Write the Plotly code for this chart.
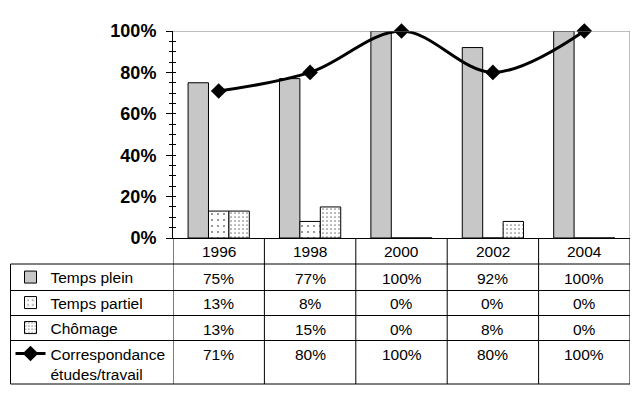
import plotly.graph_objects as go

years = ['1996', '1998', '2000', '2002', '2004']
temps_plein = [75, 77, 100, 92, 100]
temps_partiel = [13, 8, 0, 0, 0]
chomage = [13, 15, 0, 8, 0]
correspondance = [71, 80, 100, 80, 100]

series_names = ['Temps plein', 'Temps partiel', 'Chômage', 'Correspondance<br>études/travail']

W, H = 640, 400
ML, MR, MT, MB = 173, 10, 31, 162
PW = W - ML - MR
PH = H - MT - MB
FONT = 'Liberation Sans, Arial, sans-serif'
FS = 15.5


def py(ypix):
    return (H - MB - ypix) / PH


def px(xpix):
    return (xpix - ML) / PW


fig = go.Figure()

pat = [
    dict(shape='.', size=2, solidity=0.5, fgcolor='black', bgcolor='white'),
    dict(shape='.', size=6, solidity=0.1, fgcolor='black', bgcolor='white'),
    dict(shape='.', size=4, solidity=0.15, fgcolor='black', bgcolor='white'),
]
bar_data = [temps_plein, temps_partiel, chomage]
for i, vals in enumerate(bar_data):
    fig.add_trace(go.Bar(
        x=years, y=[v / 100 for v in vals], name=series_names[i],
        marker=dict(color='white', pattern=pat[i], line=dict(color='black', width=1)),
        legend='legend' if i == 0 else f'legend{i + 1}',
    ))

fig.add_trace(go.Scatter(
    x=years, y=[v / 100 for v in correspondance], name=series_names[3],
    mode='lines+markers', line=dict(color='black', width=3, shape='spline', smoothing=1.0),
    marker=dict(symbol='diamond', size=12, color='black'),
    legend='legend4', cliponaxis=False,
))

# table geometry (pixels)
row_lines = [264, 290.5, 315.5, 340.5, 384]
left_x = 10.5
header_c = 251
row_text_y = [278, 303, 329, 354]
row_centers = [277.5, 303, 328, 354]

shapes = []
# plot border top/right (gray)
shapes.append(dict(type='line', xref='x', yref='y', x0=-0.5, x1=len(years) - 0.5, y0=1, y1=1,
                   line=dict(color='#808080', width=1)))
shapes.append(dict(type='line', xref='x', yref='y', x0=len(years) - 0.5, x1=len(years) - 0.5, y0=0, y1=1,
                   line=dict(color='#808080', width=1)))
# vertical column lines
for i in range(len(years) + 1):
    shapes.append(dict(type='line', xref='x', yref='paper', x0=i - 0.5, x1=i - 0.5,
                       y0=0, y1=py(row_lines[-1]), line=dict(color='black', width=1)))
# left border
shapes.append(dict(type='line', xref='paper', yref='paper', x0=px(left_x), x1=px(left_x),
                   y0=py(row_lines[0]), y1=py(row_lines[-1]), line=dict(color='black', width=1)))
# horizontal lines
for yl in row_lines:
    shapes.append(dict(type='line', xref='paper', yref='paper', x0=px(left_x), x1=1,
                       y0=py(yl), y1=py(yl), line=dict(color='black', width=1)))

annotations = []
for i, y in enumerate(years):
    annotations.append(dict(x=i, xref='x', y=py(header_c), yref='paper', text=y, showarrow=False,
                            font=dict(size=FS, color='black', family=FONT), yanchor='middle'))
all_rows = [temps_plein, temps_partiel, chomage, correspondance]
for r, vals in enumerate(all_rows):
    for i, v in enumerate(vals):
        annotations.append(dict(x=i, xref='x', y=py(row_text_y[r]), yref='paper', text=f'{v}%',
                                showarrow=False, font=dict(size=FS, color='black', family=FONT),
                                yanchor='middle'))

legend_common = dict(x=px(left_x), xanchor='left', bgcolor='rgba(0,0,0,0)',
                     font=dict(size=FS, color='black', family=FONT), borderwidth=0,
                     itemwidth=30, itemclick=False, itemdoubleclick=False)

fig.update_layout(
    width=W, height=H,
    margin=dict(l=ML, r=MR, t=MT, b=MB, autoexpand=False),
    paper_bgcolor='white', plot_bgcolor='white',
    barmode='group', bargap=0.33, bargroupgap=0,
    font=dict(family=FONT, color='black'),
    xaxis=dict(type='category', range=[-0.5, len(years) - 0.5], showticklabels=False, ticks='',
               showline=True, linecolor='black', linewidth=1, showgrid=False, zeroline=False,
               fixedrange=True),
    yaxis=dict(range=[0, 1], dtick=0.2, tickformat='.0%', showgrid=False, zeroline=False,
               showline=True, linecolor='black', linewidth=1, ticks='outside', ticklen=6,
               tickcolor='black', ticklabelstandoff=6,
               tickfont=dict(size=18, color='black', family='Liberation Sans, Arial', weight='bold'),
               minor=dict(dtick=0.05, ticks='outside', ticklen=3, tickcolor='black'),
               fixedrange=True),
    yaxis2=dict(range=[0, 1], overlaying='y', side='left', showgrid=False, zeroline=False,
                showline=False, ticks='inside', ticklen=3, dtick=0.05, tickcolor='black',
                showticklabels=False, fixedrange=True),
    legend=dict(y=py(row_centers[0]), yanchor='middle', **legend_common),
    legend2=dict(y=py(row_centers[1]), yanchor='middle', **legend_common),
    legend3=dict(y=py(row_centers[2]), yanchor='middle', **legend_common),
    legend4=dict(y=py(row_centers[3] - 17), yanchor='top', valign='top', **legend_common),
    shapes=shapes,
    annotations=annotations,
    showlegend=True,
)

# invisible trace to activate yaxis2 (inside tick marks)
fig.add_trace(go.Scatter(x=[years[0]], y=[0], yaxis='y2', mode='markers',
                         marker=dict(opacity=0), showlegend=False, hoverinfo='skip'))

fig.write_html('out.html', config={'displayModeBar': False},
               post_script="document.body.style.margin='0';document.body.style.overflow='hidden';")
